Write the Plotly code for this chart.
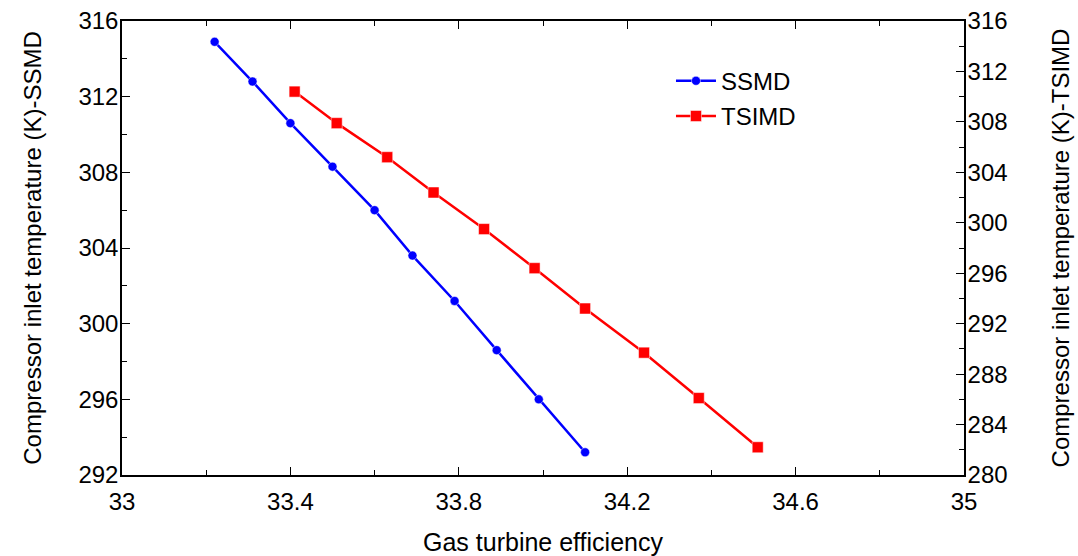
import plotly.graph_objects as go

# Data
ssmd_eff = [33.22, 33.31, 33.40, 33.50, 33.60, 33.69, 33.79, 33.89, 33.99, 34.10]
ssmd_temp = [314.9, 312.8, 310.6, 308.3, 306.0, 303.6, 301.2, 298.6, 296.0, 293.2]

tsimd_eff = [33.41, 33.51, 33.63, 33.74, 33.86, 33.98, 34.10, 34.24, 34.37, 34.51]
tsimd_temp = [310.4, 307.9, 305.2, 302.4, 299.5, 296.4, 293.2, 289.7, 286.1, 282.2]

x_title = "Gas turbine efficiency"
y1_title = "Compressor inlet temperature (K)-SSMD"
y2_title = "Compressor inlet temperature (K)-TSIMD"

FONT = "Liberation Sans, Arial, sans-serif"
FS = 24

fig = go.Figure()
fig.add_trace(go.Scatter(
    x=ssmd_eff, y=ssmd_temp, name="SSMD", mode="lines+markers",
    line=dict(color="#0000ff", width=2.5),
    marker=dict(symbol="circle", size=9, color="#0000ff", line=dict(color="white", width=0.5)),
    legendgroup="a", yaxis="y"))
fig.add_trace(go.Scatter(
    x=tsimd_eff, y=tsimd_temp, name="TSIMD", mode="lines+markers",
    line=dict(color="#ff0000", width=2.5),
    marker=dict(symbol="square", size=11, color="#ff0000", line=dict(color="white", width=0.5)),
    legendgroup="b", yaxis="y2"))

axis_common = dict(
    showline=True, linecolor="black", linewidth=1.5,
    ticks="inside", ticklen=8, tickwidth=1, tickcolor="black",
    showgrid=False, zeroline=False, automargin=False,
    tickfont=dict(family=FONT, size=FS, color="black"),
)

fig.update_layout(
    width=1078, height=556,
    margin=dict(l=122, r=114, t=21, b=81),
    paper_bgcolor="white", plot_bgcolor="white",
    font=dict(family=FONT, size=FS, color="black"),
    xaxis=dict(
        range=[33, 35], tick0=33, dtick=0.4, mirror="ticks",
        minor=dict(dtick=0.2, ticks="inside", ticklen=5, tickcolor="black"),
        title=dict(text=x_title, font=dict(family=FONT, size=FS + 1), standoff=20),
        ticklabelstandoff=4,
        **axis_common),
    yaxis=dict(
        range=[292, 316], tick0=292, dtick=4,
        minor=dict(dtick=2, ticks="inside", ticklen=5, tickcolor="black"),
        title=dict(text=y1_title, font=dict(family=FONT, size=FS), standoff=30),
        ticklabelstandoff=-3,
        **axis_common),
    yaxis2=dict(
        range=[280, 316], tick0=280, dtick=4, overlaying="y", side="right",
        minor=dict(dtick=2, ticks="inside", ticklen=5, tickcolor="black"),
        title=dict(text=y2_title, font=dict(family=FONT, size=FS), standoff=46),
        ticklabelstandoff=-3,
        **axis_common),
    showlegend=True,
    legend=dict(x=0.652, y=0.917, xanchor="left", yanchor="top",
                bgcolor="rgba(0,0,0,0)", font=dict(family=FONT, size=FS),
                tracegroupgap=1, itemwidth=40),
)

fig.write_html("out.html")
